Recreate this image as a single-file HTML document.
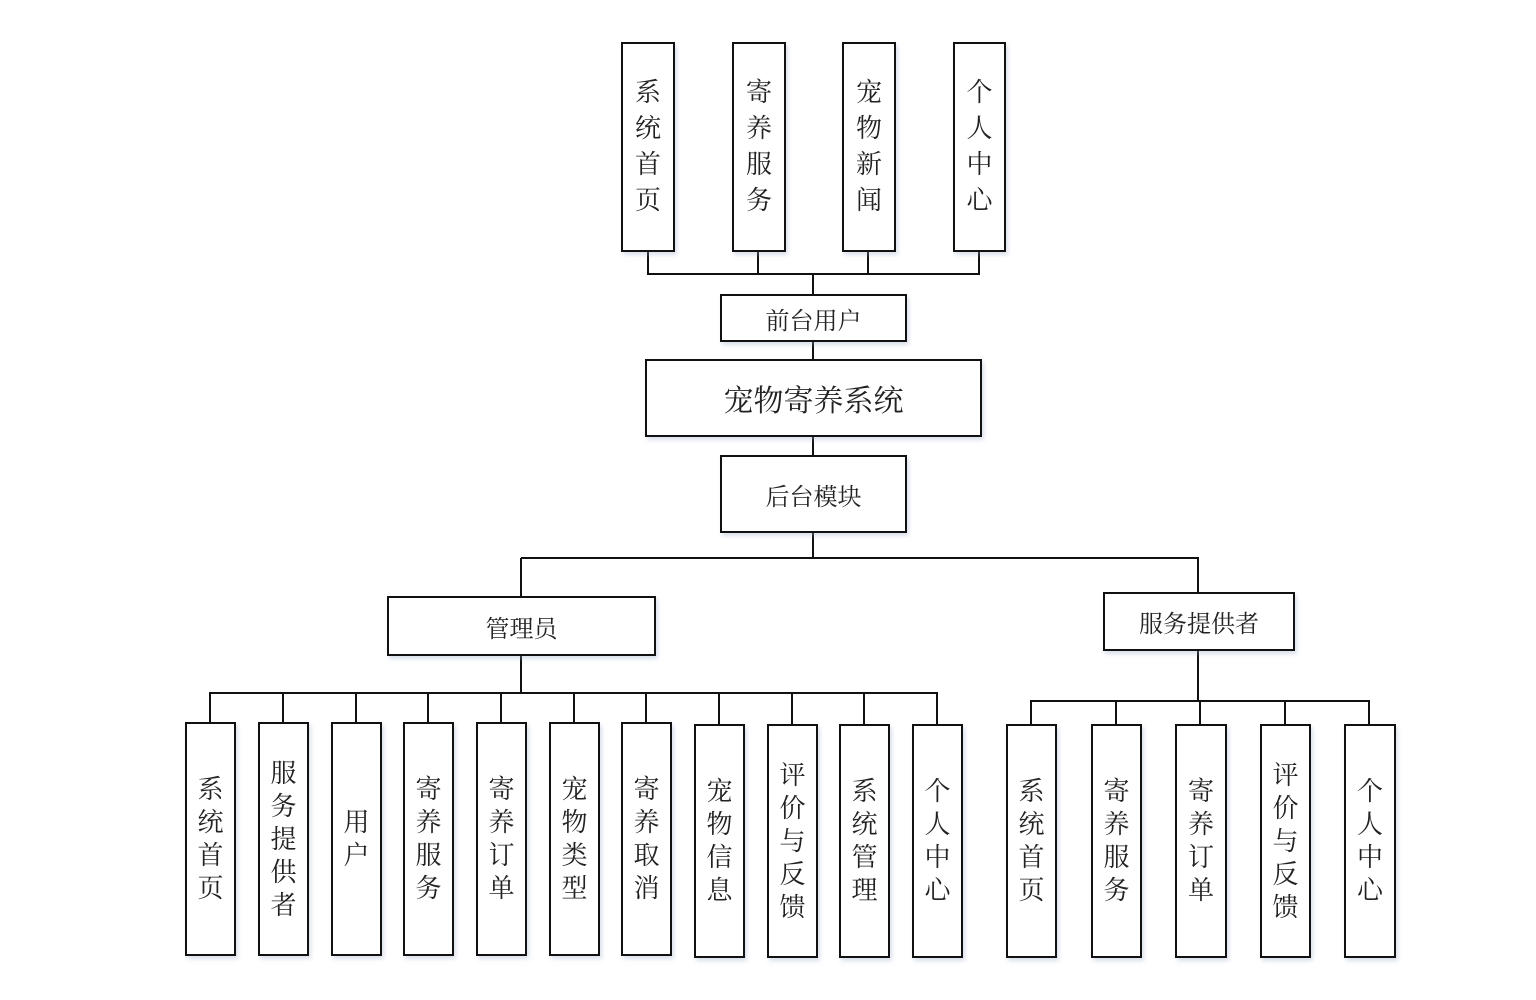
<!DOCTYPE html>
<html><head><meta charset="utf-8"><style>
html,body{margin:0;padding:0;background:#fff;}
body{width:1536px;height:1000px;position:relative;overflow:hidden;font-family:"Liberation Serif","Noto Serif CJK SC",serif;color:#222;}
.b{position:absolute;box-sizing:border-box;border:2px solid #111;background:#fff;display:flex;align-items:center;justify-content:center;text-align:center;box-shadow:2px 3px 4px rgba(150,170,200,0.35);}
.v{font-size:26px;line-height:33px;}
.t{font-size:26px;line-height:36px;}
svg{position:absolute;left:0;top:0;}
</style></head><body>
<svg width="1536" height="1000">
<g stroke="#111" stroke-width="2" fill="none">
<path d="M648 251V274M758 251V274M868 251V274M979 251V274M647 274H980M813 274V294M813 341V359M813 436V455M813 532V558M521 558H1199M521 558V596M1198 558V592M521 655V693M209 693H938"/>
<path d="M210 693V722M283 693V722M356 693V722M428 693V722M501 693V722M574 693V722M646 693V722M719 693V724M792 693V724M864 693V724M937 693V724"/>
<path d="M1198 650V701M1030 701H1370M1031 701V724M1116 701V724M1200 701V724M1285 701V724M1369 701V724"/>
</g></svg>

<div class="b t" style="left:621px;top:42px;width:54px;height:210px;">系<br>统<br>首<br>页</div>
<div class="b t" style="left:732px;top:42px;width:54px;height:210px;">寄<br>养<br>服<br>务</div>
<div class="b t" style="left:842px;top:42px;width:54px;height:210px;">宠<br>物<br>新<br>闻</div>
<div class="b t" style="left:953px;top:42px;width:53px;height:210px;">个<br>人<br>中<br>心</div>

<div class="b" style="left:720px;top:294px;width:187px;height:48px;font-size:24px;">前台用户</div>
<div class="b" style="left:645px;top:359px;width:337px;height:78px;font-size:30px;">宠物寄养系统</div>
<div class="b" style="left:720px;top:455px;width:187px;height:78px;font-size:24px;">后台模块</div>
<div class="b" style="left:387px;top:596px;width:269px;height:60px;font-size:24px;">管理员</div>
<div class="b" style="left:1103px;top:592px;width:192px;height:59px;font-size:24px;">服务提供者</div>

<div class="b v" style="left:185px;top:722px;width:51px;height:234px;">系<br>统<br>首<br>页</div>
<div class="b v" style="left:258px;top:722px;width:51px;height:234px;">服<br>务<br>提<br>供<br>者</div>
<div class="b v" style="left:331px;top:722px;width:51px;height:234px;">用<br>户</div>
<div class="b v" style="left:403px;top:722px;width:51px;height:234px;">寄<br>养<br>服<br>务</div>
<div class="b v" style="left:476px;top:722px;width:51px;height:234px;">寄<br>养<br>订<br>单</div>
<div class="b v" style="left:549px;top:722px;width:51px;height:234px;">宠<br>物<br>类<br>型</div>
<div class="b v" style="left:621px;top:722px;width:51px;height:234px;">寄<br>养<br>取<br>消</div>
<div class="b v" style="left:694px;top:724px;width:51px;height:234px;">宠<br>物<br>信<br>息</div>
<div class="b v" style="left:767px;top:724px;width:51px;height:234px;">评<br>价<br>与<br>反<br>馈</div>
<div class="b v" style="left:839px;top:724px;width:51px;height:234px;">系<br>统<br>管<br>理</div>
<div class="b v" style="left:912px;top:724px;width:51px;height:234px;">个<br>人<br>中<br>心</div>

<div class="b v" style="left:1006px;top:724px;width:51px;height:234px;">系<br>统<br>首<br>页</div>
<div class="b v" style="left:1091px;top:724px;width:51px;height:234px;">寄<br>养<br>服<br>务</div>
<div class="b v" style="left:1175px;top:724px;width:52px;height:234px;">寄<br>养<br>订<br>单</div>
<div class="b v" style="left:1260px;top:724px;width:51px;height:234px;">评<br>价<br>与<br>反<br>馈</div>
<div class="b v" style="left:1344px;top:724px;width:52px;height:234px;">个<br>人<br>中<br>心</div>
</body></html>
